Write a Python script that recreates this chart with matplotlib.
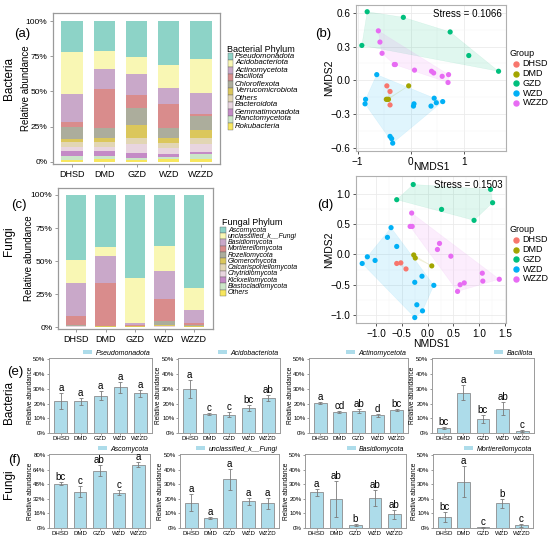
import numpy as np
import matplotlib.pyplot as plt
from matplotlib.patches import Rectangle, Patch, Polygon
from matplotlib.lines import Line2D

plt.rcParams['font.family'] = ['Liberation Sans', 'DejaVu Sans']

groups = ["DHSD", "DMD", "GZD", "WZD", "WZZD"]
group_colors = ["#F8766D", "#A3A500", "#00BF7D", "#00B0F6", "#E76BF3"]

# Stacked composition (%), legend order = top of the stack first
bac_phyla = ["Pseudomonadota", "Acidobacteriota", "Actinomycetota", "Bacillota",
             "Chloroflexota", "Verrucomicrobiota", "Others", "Bacteroidota",
             "Gemmatimonadota", "Planctomycetota", "Rokubacteria"]
bac_abund = [
    [21.8, 21.3, 25.8, 31.3, 27.3],
    [29.9, 13.1, 12.1, 16.6, 23.9],
    [19.9, 13.9, 14.7, 11.3, 14.7],
    [3.5, 28.0, 9.0, 17.1, 1.6],
    [8.8, 7.1, 12.3, 7.1, 10.0],
    [1.9, 2.4, 9.5, 3.1, 5.4],
    [3.5, 3.5, 4.3, 4.0, 4.8],
    [2.9, 2.9, 6.4, 4.0, 5.2],
    [3.5, 3.5, 3.5, 2.4, 1.9],
    [3.1, 2.4, 1.5, 1.4, 3.5],
    [1.2, 1.9, 0.9, 1.7, 1.7],
]

fun_phyla = ["Ascomycota", "unclassified_k__Fungi", "Basidiomycota", "Mortierellomycota",
             "Rozellomycota", "Glomeromycota", "Calcarisporiellomycota", "Chytridiomycota",
             "Kickxellomycota", "Blastocladiomycota", "Others"]
fun_abund = [
    [49.4, 39.4, 63.2, 39.0, 70.5],
    [17.6, 6.8, 33.8, 18.3, 16.8],
    [24.5, 20.5, 1.8, 21.2, 9.3],
    [7.2, 32.3, 0.5, 17.0, 1.8],
    [0.3, 0.3, 0.2, 2.8, 1.0],
    [0.4, 0.4, 0.2, 1.0, 0.3],
    [0.2, 0.1, 0.1, 0.3, 0.1],
    [0.1, 0.1, 0.1, 0.2, 0.1],
    [0.1, 0.05, 0.05, 0.1, 0.05],
    [0.1, 0.05, 0.05, 0.05, 0.05],
    [0.1, 0.0, 0.0, 0.05, 0.0],
]

phylum_colors = ["#8DD3C7", "#F9F7B4", "#C9A8C9", "#D98C8C", "#ACAD9C", "#DBC75C",
                 "#E2D6B4", "#E8D5DF", "#C48AC6", "#CBE6C8", "#F7E65E"]

# NMDS scores
bac_nmds_x = {
    "DHSD": [-0.45, -0.39, -0.39],
    "DMD": [-0.04, -0.46, -0.44, -0.42],
    "GZD": [-0.82, -0.14, -0.92, 0.74, 1.09, 1.65],
    "WZD": [-0.64, -0.85, -0.86, 0.06, 0.05, 0.44, 0.48, 0.60, 0.38, -0.39, -0.36, -0.34],
    "WZZD": [-0.61, -0.58, -0.54, -0.31, -0.29, 0.07, 0.39, 0.43, 0.59, 0.71, 0.70],
}
bac_nmds_y = {
    "DHSD": [-0.05, -0.10, -0.22],
    "DMD": [-0.05, -0.17, -0.17, -0.17],
    "GZD": [0.61, 0.56, 0.31, 0.43, 0.22, 0.08],
    "WZD": [0.05, -0.17, -0.21, -0.21, -0.23, -0.16, -0.20, -0.19, -0.23, -0.50, -0.52, -0.56],
    "WZZD": [0.44, 0.34, 0.24, 0.14, 0.14, 0.09, 0.08, 0.065, 0.035, 0.05, -0.02],
}
fun_nmds_x = {
    "DHSD": [-0.60, -0.52, -0.42],
    "DMD": [-0.27, -0.24, 0.08],
    "GZD": [-0.28, -0.60, 0.27, 1.22, 1.26, 0.90],
    "WZD": [-0.71, -0.78, -0.60, -1.17, -1.02, -1.27, -0.25, -0.11, 0.12, -0.21, -0.10, -0.25],
    "WZZD": [-0.31, -0.34, -0.30, 0.23, 0.19, 0.45, 1.06, 1.07, 1.39, 0.71, 0.63, 0.58],
}
fun_nmds_y = {
    "DHSD": [-0.15, -0.14, -0.24],
    "DMD": [-0.01, -0.06, -0.19],
    "GZD": [1.15, 0.90, 0.74, 1.07, 0.85, 0.56],
    "WZD": [0.44, 0.28, 0.13, -0.04, -0.10, -0.15, -0.46, -0.36, -0.51, -0.83, -0.93, -1.04],
    "WZZD": [0.68, 0.46, 0.46, 0.18, 0.08, -0.03, -0.31, -0.44, -0.41, -0.47, -0.50, -0.61],
}

# Dominant phyla: mean, sd and significance letters
pseudo_mean = [22, 21.5, 25.5, 31, 27]
pseudo_sd = [5.5, 2.5, 3, 3.5, 2.5]
pseudo_let = ["a", "a", "a", "a", "a"]
acido_mean = [30, 13, 12.5, 17, 24]
acido_sd = [6, 0.8, 1.5, 2, 2]
acido_let = ["a", "c", "c", "bc", "ab"]
actino_mean = [20.5, 14.3, 15, 12, 15.5]
actino_sd = [0.5, 0.8, 1.5, 0.8, 0.8]
actino_let = ["a", "cd", "ab", "d", "bc"]
bacil_mean = [3.5, 27.5, 9.5, 16.5, 1.5]
bacil_sd = [0.5, 5, 2.5, 4.5, 0.5]
bacil_let = ["bc", "a", "bc", "ab", "c"]
asco_mean = [49, 40, 63, 39, 70]
asco_sd = [1.5, 6, 6, 3, 2.5]
asco_let = ["bc", "c", "ab", "c", "a"]
uncl_mean = [17.5, 7, 33.5, 18.5, 17]
uncl_sd = [6, 0.7, 7, 2.5, 4]
uncl_let = ["a", "a", "a", "a", "a"]
basid_mean = [24.5, 20, 2, 21, 9.5]
basid_sd = [2.5, 12.5, 0.7, 5.5, 3]
basid_let = ["a", "ab", "b", "ab", "ab"]
mort_mean = [7.5, 32, 0.5, 17, 2]
mort_sd = [3.5, 10.5, 0.3, 3, 1]
mort_let = ["bc", "a", "c", "b", "c"]

W, H = 550, 539
fig = plt.figure(figsize=(W / 100, H / 100), dpi=100)
GRAY = "#9A9A9A"


def px_axes(left, top, right, bottom):
    return fig.add_axes([left / W, 1 - bottom / H, (right - left) / W, (bottom - top) / H])


def fig_text(x, y, s, **kw):
    return fig.text(x / W, 1 - y / H, s, **kw)


def place_labels(ax, box, ylab_x=None, xlab_y=None):
    # put axis titles at given pixel centres
    left, top, right, bottom = box
    if ylab_x is not None:
        ax.yaxis.set_label_coords((ylab_x - left) / (right - left), 0.5)
        ax.yaxis.label.set_va("center")
    if xlab_y is not None:
        ax.xaxis.set_label_coords(0.5, (bottom - xlab_y) / (bottom - top))
        ax.xaxis.label.set_va("center")


def style_box(ax, color=GRAY, lw=0.9):
    for sp in ax.spines.values():
        sp.set_color(color)
        sp.set_linewidth(lw)
    ax.tick_params(color=color, length=2.5, width=0.7, pad=1.5)


def stacked_panel(box, abund, xlim, ylim, width, ylab_x):
    ax = px_axes(*box)
    x = np.arange(len(groups))
    bottom = np.zeros(len(groups))
    for vals, col in reversed(list(zip(abund, phylum_colors))):
        v = np.array(vals) / 100
        ax.bar(x, v, width, bottom=bottom, color=col, edgecolor="none")
        bottom += v
    ax.set_xlim(*xlim)
    ax.set_ylim(*ylim)
    ax.set_yticks([0, 0.25, 0.5, 0.75, 1.0])
    ax.set_yticklabels(["0%", "25%", "50%", "75%", "100%"], fontsize=6)
    ax.set_xticks(x)
    ax.set_xticklabels(groups, fontsize=6.5)
    ax.set_ylabel("Relative abundance", fontsize=7)
    style_box(ax)
    place_labels(ax, box, ylab_x=ylab_x)
    return ax


def phylum_legend(title, names, x_title, y_title, x_patch, x_text, y_first, dy, fs):
    fig_text(x_title, y_title, title, fontsize=6.5, va="center")
    for i, (n, c) in enumerate(zip(names, phylum_colors)):
        y = y_first + i * dy
        fig.add_artist(Rectangle((x_patch / W, 1 - (y + dy / 2) / H), 5.5 / W, dy / H,
                                 transform=fig.transFigure, facecolor=c,
                                 edgecolor="#666666", lw=0.3))
        fig_text(x_text, y, n, fontsize=fs, style="italic", va="center")


def convex_hull(xs, ys):
    pts = sorted(set(zip(xs, ys)))
    if len(pts) < 3:
        return pts

    def cross(o, a, b):
        return (a[0] - o[0]) * (b[1] - o[1]) - (a[1] - o[1]) * (b[0] - o[0])

    lower, upper = [], []
    for p in pts:
        while len(lower) >= 2 and cross(lower[-2], lower[-1], p) <= 0:
            lower.pop()
        lower.append(p)
    for p in reversed(pts):
        while len(upper) >= 2 and cross(upper[-2], upper[-1], p) <= 0:
            upper.pop()
        upper.append(p)
    return lower[:-1] + upper[:-1]


def nmds_panel(box, xs, ys, xlim, ylim, xticks, xlabels, yticks, ylabels, stress, xlab_y):
    ax = px_axes(*box)
    for g, col in zip(groups, group_colors):
        hull = convex_hull(xs[g], ys[g])
        if len(hull) >= 3:
            ax.add_patch(Polygon(hull, closed=True, facecolor=col, alpha=0.12,
                                 edgecolor=col, lw=0.3, zorder=1))
    for g, col in zip(groups, group_colors):
        ax.scatter(xs[g], ys[g], s=14, color=col, edgecolors="none", zorder=3)
    ax.set_xlim(*xlim)
    ax.set_ylim(*ylim)
    ax.set_xticks(xticks)
    ax.set_xticklabels(xlabels, fontsize=7.2)
    ax.set_yticks(yticks)
    ax.set_yticklabels(ylabels, fontsize=7.2)
    ax.set_xticks([(a + b) / 2 for a, b in zip(xticks[:-1], xticks[1:])], minor=True)
    ax.set_yticks([(a + b) / 2 for a, b in zip(yticks[:-1], yticks[1:])], minor=True)
    ax.grid(which="major", color="#EBEBEB", lw=0.6)
    ax.grid(which="minor", color="#F4F4F4", lw=0.35)
    ax.set_axisbelow(True)
    ax.tick_params(which="minor", length=0)
    ax.set_xlabel("NMDS1", fontsize=7.5)
    ax.set_ylabel("NMDS2", fontsize=7.5)
    style_box(ax, color="#B0B0B0", lw=0.8)
    ax.tick_params(which="major", color="#555555")
    place_labels(ax, box, ylab_x=329, xlab_y=xlab_y)
    ax.text(0.975, 0.975, "Stress = " + stress, transform=ax.transAxes,
            ha="right", va="top", fontsize=7)
    return ax


def group_legend(x, y_title, y_first, dy):
    fig_text(x, y_title, "Group", fontsize=6.5, va="center")
    for i, (g, c) in enumerate(zip(groups, group_colors)):
        y = y_first + i * dy
        fig.add_artist(Line2D([(x + 6) / W], [1 - y / H], marker="o", markersize=3.6,
                              color=c, lw=0, transform=fig.transFigure))
        fig_text(x + 12.5, y, g, fontsize=6.5, va="center")


def bar_panel(box, name, means, sds, letters, ymax, yticks):
    ax = px_axes(*box)
    x = np.arange(len(groups))
    ax.bar(x, means, 0.66, color="#ADDCEA", edgecolor="#8C8C8C", lw=0.6, zorder=2)
    ax.errorbar(x, means, yerr=sds, fmt="none", ecolor="#7A7A7A", elinewidth=0.6,
                capsize=1.4, capthick=0.6, zorder=3)
    for xi, m, s, l in zip(x, means, sds, letters):
        ax.text(xi, m + s, l, ha="center", va="bottom", fontsize=7)
    ax.set_xlim(-0.6, 4.6)
    ax.set_ylim(0, ymax * 1.02)
    ax.set_yticks(yticks)
    ax.set_yticklabels([f"{t}%" for t in yticks], fontsize=4.4)
    ax.set_xticks(x)
    ax.set_xticklabels(groups, fontsize=4.4)
    ax.set_ylabel("Relative abundance", fontsize=4.7)
    style_box(ax, lw=0.7)
    ax.tick_params(length=1.5, pad=1)
    place_labels(ax, box, ylab_x=box[0] - 19)
    ax.legend([Patch(facecolor="#ADDCEA", edgecolor="none")], [name], loc="lower right",
              bbox_to_anchor=(1.0, 1.0), frameon=False,
              prop={"size": 5, "style": "italic"}, handlelength=1.3, handleheight=0.5,
              handletextpad=0.5, borderpad=0, borderaxespad=0.2)
    return ax


# (a) bacterial composition
stacked_panel((53, 13, 220, 164), bac_abund, (-0.59, 4.59), (-0.016, 1.057), 0.66, 26)
phylum_legend("Bacterial Phylum", bac_phyla, 227, 49, 227.5, 235, 56, 7.0, 5.6)

# (c) fungal composition
stacked_panel((58, 188, 213, 329), fun_abund, (-0.61, 4.64), (-0.015, 1.053), 0.70, 29)
phylum_legend("Fungal Phylum", fun_phyla, 222, 222, 220, 228, 230, 6.27, 5.0)

# (b) and (d) NMDS
nmds_panel((356, 5, 506, 151), bac_nmds_x, bac_nmds_y, (-1.03, 1.79), (-0.63, 0.67),
           [-1, 0, 1], ["\u22121", "0", "1"],
           [-0.6, -0.3, 0.0, 0.3, 0.6], ["\u22120.6", "\u22120.3", "0.0", "0.3", "0.6"],
           "0.1066", 167)
group_legend(510, 53, 64, 9.7)

nmds_panel((356, 176, 506, 323), fun_nmds_x, fun_nmds_y, (-1.39, 1.52), (-1.13, 1.29),
           [-1.0, -0.5, 0.0, 0.5, 1.0, 1.5],
           ["\u22121.0", "\u22120.5", "0.0", "0.5", "1.0", "1.5"],
           [-1.0, -0.5, 0.0, 0.5, 1.0], ["\u22121.0", "\u22120.5", "0.0", "0.5", "1.0"],
           "0.1503", 344)
group_legend(510, 230, 240, 9.7)

# (e) and (f) dominant phyla
pct50 = [0, 10, 20, 30, 40, 50]
bar_panel((49, 358, 152, 433), "Pseudomonadota", pseudo_mean, pseudo_sd, pseudo_let, 50, pct50)
bar_panel((178, 358, 280, 433), "Acidobacteriota", acido_mean, acido_sd, acido_let, 50, pct50)
bar_panel((309, 358, 408, 433), "Actinomycetota", actino_mean, actino_sd, actino_let, 50, pct50)
bar_panel((432, 358, 534, 433), "Bacillota", bacil_mean, bacil_sd, bacil_let, 50, pct50)
bar_panel((49, 454, 150, 528), "Ascomycota", asco_mean, asco_sd, asco_let, 80,
          [0, 16, 32, 48, 64, 80])
bar_panel((180, 454, 279, 528), "unclassified_k__Fungi", uncl_mean, uncl_sd, uncl_let, 50, pct50)
bar_panel((305, 454, 406, 528), "Basidiomycota", basid_mean, basid_sd, basid_let, 50, pct50)
bar_panel((433, 454, 533, 528), "Mortierellomycota", mort_mean, mort_sd, mort_let, 50, pct50)

# panel tags and row labels
for tag, x, y in [("(a)", 22, 34), ("(b)", 323, 34), ("(c)", 19, 205), ("(d)", 325, 205),
                  ("(e)", 15, 372), ("(f)", 14, 460)]:
    fig_text(x, y, tag, fontsize=9.5, ha="center", va="center")
for lab, y in [("Bacteria", 79), ("Fungi", 241), ("Bacteria", 402), ("Fungi", 484)]:
    fig_text(9, y, lab, fontsize=8.5, rotation=90, ha="center", va="center")

fig.savefig("out.png", dpi=100)
